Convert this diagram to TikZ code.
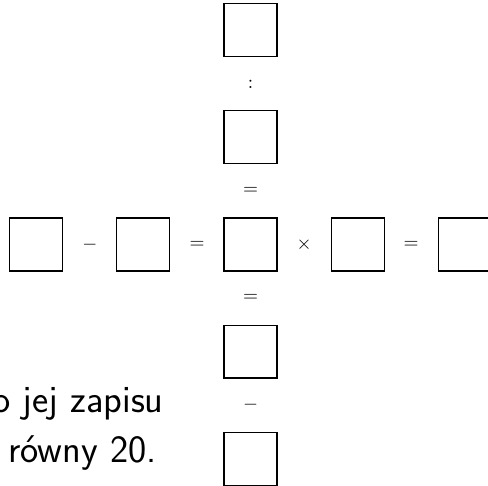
\documentclass[tikz,border=0pt]{standalone}
\usepackage{fontspec}
\usetikzlibrary{positioning}
\begin{document}
\begin{tikzpicture}[x=0.02cm, y=-0.02cm,
  every node/.style = {inner sep=0pt},
  pole/.style  = {draw, shape=rectangle,
    minimum size=1.06cm, line width=0.6pt},
  znak/.style  = {font=\fontsize{10.5}{12}\selectfont},
  tekst/.style = {anchor=base east,
    font=\sffamily\fontsize{22}{27}\selectfont},
  node distance = 1.06cm]
\useasboundingbox (0,0) rectangle (488,486);
\clip (0,0) rectangle (488,486);
% srodek krzyzowki
\node[pole] (s) at (250.5,244.5) {};
% wiersz
\node[pole, left=of s]   (l2) {};
\node[pole, left=of l2]  (l1) {};
\node[pole, right=of s]  (p1) {};
\node[pole, right=of p1] (p2) {};
% kolumna
\node[pole, above=of s]  (g2) {};
\node[pole, above=of g2] (g1) {};
\node[pole, below=of s]  (d1) {};
\node[pole, below=of d1] (d2) {};
% znaki dzialan
\path (l1) -- node[znak] (z1) {$-$} (l2);
\path (l2) -- node[znak] (z2) {$=$} (s);
\path (s)  -- node[znak] (z3) {$\times$} (p1);
\path (p1) -- node[znak] (z4) {$=$} (p2);
\path (g1) -- node[znak] (z5) {$:$} (g2);
\path (g2) -- node[znak] (z6) {$=$} (s);
\path (s)  -- node[znak] (z7) {$=$} (d1);
\path (d1) -- node[znak] (z8) {$-$} (d2);
% tresc zadania
\node[tekst] (t1) at (164,413) {o jej zapisu};
\node[tekst] (t2) at (157,463) {równy 20.};
\end{tikzpicture}
\end{document}
